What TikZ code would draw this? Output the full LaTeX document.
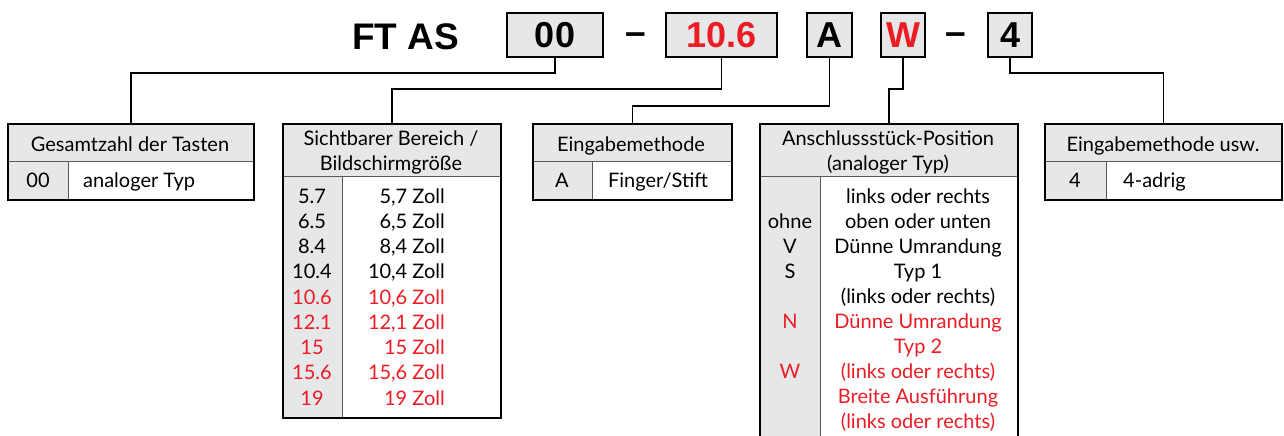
\documentclass[tikz,border=0pt]{standalone}
\usepackage{fontspec}
\setmainfont{Lato}
\newfontfamily\headfont{Liberation Sans}
\usetikzlibrary{calc}
\definecolor{cellgray}{HTML}{E6E7E8}
\definecolor{redc}{HTML}{ED1C24}
\begin{document}
\begin{tikzpicture}[x=1pt,y=-1pt,
  codebox/.style={draw=black,line width=1.6pt,fill=cellgray,inner sep=0pt,minimum height=44,
    font=\headfont\bfseries\fontsize{36}{36}\selectfont},
  headtxt/.style={inner sep=0pt,font=\headfont\bfseries\fontsize{37}{37}\selectfont},
  frame/.style={draw=black,line width=1.8pt,inner sep=0pt,fill=none,anchor=north west},
  divider/.style={draw=black!65,line width=1pt},
  conn/.style={draw=black,line width=1.8pt},
  txt/.style={font=\fontsize{20}{22}\selectfont,inner sep=0pt,anchor=base},
  txtl/.style={txt,anchor=base west},
  txtr/.style={txt,anchor=base east},
  red/.style={text=redc}
]
\clip (0,0) rectangle (1284,436);
\fill[white] (0,0) rectangle (1284,436);

% ---- top code line ----
\node[headtxt,anchor=base west] (ftas) at (352,49) {FT AS};
\node[codebox,minimum width=96] (b00) at (555,35) {00};
\node[headtxt,anchor=base] (d1) at (636,45) {–};
\node[codebox,minimum width=111,text=redc] (b106) at (721.5,35) {10.6};
\node[codebox,minimum width=45] (bA) at (829.5,35) {A};
\node[codebox,minimum width=44,text=redc] (bW) at (903,35) {W};
\node[headtxt,anchor=base] (d2) at (956,45) {–};
\node[codebox,minimum width=44] (b4) at (1010,35) {4};

% ---- table backgrounds ----
\fill[cellgray] (7,123) rectangle (253,161);
\fill[cellgray] (7,161) rectangle (68,199);
\fill[cellgray] (282,123) rectangle (500,176);
\fill[cellgray] (282,176) rectangle (342,417);
\fill[cellgray] (532,123) rectangle (731,161);
\fill[cellgray] (532,161) rectangle (592,199);
\fill[cellgray] (759,123) rectangle (1017,176);
\fill[cellgray] (759,176) rectangle (820,450);
\fill[cellgray] (1044,123) rectangle (1281,161);
\fill[cellgray] (1044,161) rectangle (1106,199);

% ---- inner dividers ----
\draw[divider] (7,161) -- (253,161) (68,161) -- (68,199);
\draw[divider] (282,176) -- (500,176) (342,176) -- (342,417);
\draw[divider] (532,161) -- (731,161) (592,161) -- (592,199);
\draw[divider] (759,176) -- (1017,176) (820,176) -- (820,450);
\draw[divider] (1044,161) -- (1281,161) (1106,161) -- (1106,199);

% ---- table frames ----
\node[frame,minimum width=246,minimum height=76] (t1) at (7,123) {};
\node[frame,minimum width=218,minimum height=294] (t2) at (282,123) {};
\node[frame,minimum width=199,minimum height=76] (t3) at (532,123) {};
\node[frame,minimum width=258,minimum height=330] (t4) at (759,123) {};
\node[frame,minimum width=237,minimum height=76] (t5) at (1044,123) {};

% ---- connectors ----
\draw[conn] (b00.south) -- (b00.south |- 0,73) -| (t1.north);
\draw[conn] (b106.south) -- (b106.south |- 0,89) -| (t2.north);
\draw[conn] (bA.south) -- (bA.south |- 0,106) -| (t3.north);
\draw[conn] (bW.south) -- (bW.south |- 0,89) -| (t4.north);
\draw[conn] (b4.south) -- (b4.south |- 0,73) -| (t5.north);

% ---- table 1 ----
\node[txt] (t1h) at (130,151) {Gesamtzahl der Tasten};
\node[txt] (t1a) at (38,187) {00};
\node[txtl] (t1b) at (83,187) {analoger Typ};

% ---- table 2 ----
\node[txt] (t2h1) at (391,145) {Sichtbarer Bereich /};
\node[txt] (t2h2) at (391,170) {Bildschirmgröße};
\foreach \k/\a/\b/\s in {0/5.7/{5,7 Zoll}/black,1/6.5/{6,5 Zoll}/black,2/8.4/{8,4 Zoll}/black,
  3/10.4/{10,4 Zoll}/black,4/10.6/{10,6 Zoll}/redc,5/12.1/{12,1 Zoll}/redc,6/15/{15 Zoll}/redc,
  7/15.6/{15,6 Zoll}/redc,8/19/{19 Zoll}/redc}{
  \node[txt,text=\s] (t2l\k) at (312,203+25.25*\k) {\a};
  \node[txtr,text=\s] (t2r\k) at (445,203+25.25*\k) {\b};
}

% ---- table 3 ----
\node[txt] (t3h) at (631,151) {Eingabemethode};
\node[txt] (t3a) at (562,187) {A};
\node[txt] (t3b) at (658,187) {Finger/Stift};

% ---- table 4 ----
\node[txt] (t4h1) at (888,145) {Anschlussstück-Position};
\node[txt] (t4h2) at (888,170) {(analoger Typ)};
\foreach \k/\b/\s in {0/{links oder rechts}/black,1/{oben oder unten}/black,2/{Dünne Umrandung}/black,
  3/{Typ 1}/black,4/{(links oder rechts)}/black,5/{Dünne Umrandung}/redc,6/{Typ 2}/redc,
  7/{(links oder rechts)}/redc,8/{Breite Ausführung}/redc,9/{(links oder rechts)}/redc}{
  \node[txt,text=\s] (t4r\k) at (918,203+25*\k) {\b};
}
\node[txt] (t4l1) at (790,228) {ohne};
\node[txt] (t4l2) at (790,253) {V};
\node[txt] (t4l3) at (790,278) {S};
\node[txt,red] (t4l5) at (790,328) {N};
\node[txt,red] (t4l7) at (790,378) {W};

% ---- table 5 ----
\node[txt] (t5h) at (1163,151) {Eingabemethode usw.};
\node[txt] (t5a) at (1075,187) {4};
\node[txtl] (t5b) at (1123,187) {4-adrig};
\end{tikzpicture}
\end{document}
